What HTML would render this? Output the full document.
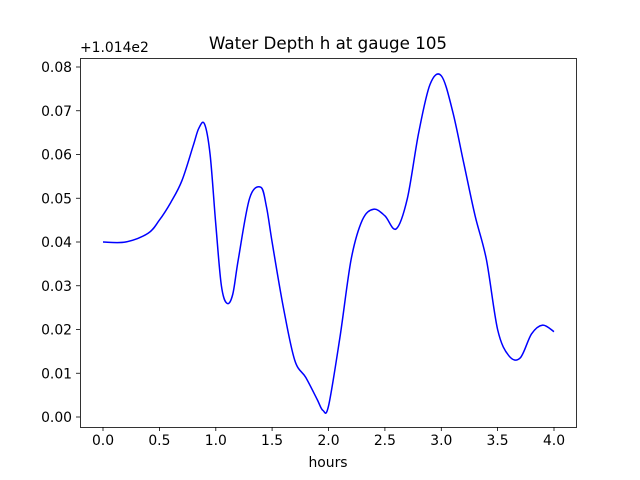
<!DOCTYPE html>
<html><head><meta charset="utf-8"><style>body{margin:0;background:#fff}svg{display:block}text{font-family:"DejaVu Sans","Liberation Sans",sans-serif;font-size:13.9px;fill:#000}</style></head><body>
<svg width="640" height="480" xmlns="http://www.w3.org/2000/svg">
<rect width="640" height="480" fill="#fff"/>
<text x="328" y="49" text-anchor="middle" style="font-size:16.7px">Water Depth h at gauge 105</text>
<text x="80" y="52">+1.014e2</text>
<path id="curve" fill="none" stroke="#0000ff" stroke-width="1.5" stroke-linejoin="round" d=""/>
<rect x="80.5" y="58.5" width="496" height="369" fill="none" stroke="#000" stroke-width="0.8"/>
<g stroke="#000" stroke-width="0.8">
<line x1="103" y1="427" x2="103" y2="431"/><line x1="159.4" y1="427" x2="159.4" y2="431"/><line x1="215.8" y1="427" x2="215.8" y2="431"/><line x1="272.1" y1="427" x2="272.1" y2="431"/><line x1="328.5" y1="427" x2="328.5" y2="431"/><line x1="384.9" y1="427" x2="384.9" y2="431"/><line x1="441.3" y1="427" x2="441.3" y2="431"/><line x1="497.6" y1="427" x2="497.6" y2="431"/><line x1="554" y1="427" x2="554" y2="431"/>
<line x1="76" y1="417" x2="80" y2="417"/><line x1="76" y1="373.25" x2="80" y2="373.25"/><line x1="76" y1="329.5" x2="80" y2="329.5"/><line x1="76" y1="285.75" x2="80" y2="285.75"/><line x1="76" y1="242" x2="80" y2="242"/><line x1="76" y1="198.25" x2="80" y2="198.25"/><line x1="76" y1="154.5" x2="80" y2="154.5"/><line x1="76" y1="110.75" x2="80" y2="110.75"/><line x1="76" y1="67" x2="80" y2="67"/>
</g>
<g text-anchor="middle">
<text x="103" y="445">0.0</text><text x="159.4" y="445">0.5</text><text x="215.8" y="445">1.0</text><text x="272.1" y="445">1.5</text><text x="328.5" y="445">2.0</text><text x="384.9" y="445">2.5</text><text x="441.3" y="445">3.0</text><text x="497.6" y="445">3.5</text><text x="554" y="445">4.0</text>
<text x="328" y="467">hours</text>
</g>
<g text-anchor="end">
<text x="72" y="422">0.00</text><text x="72" y="378.25">0.01</text><text x="72" y="334.5">0.02</text><text x="72" y="290.75">0.03</text><text x="72" y="247">0.04</text><text x="72" y="203.25">0.05</text><text x="72" y="159.5">0.06</text><text x="72" y="115.75">0.07</text><text x="72" y="72">0.08</text>
</g>
</svg>
<script>
var p=[[103,242],[125.6,242],[148.1,233.3],[159.4,220.1],[170.7,202.6],[181.9,180.7],[193.2,145.7],[198.8,128.3],[204.5,123.9],[210.1,154.5],[215.8,224.5],[221.4,285.8],[227,303.3],[232.7,294.5],[238.3,259.5],[249.6,198.3],[260.9,187.3],[266.5,207],[272.1,242],[283.4,307.6],[294.7,360.1],[305.9,377.6],[317.2,399.5],[322.9,410.4],[328.5,406.1],[339.8,338.3],[351.1,259.5],[362.3,220.1],[373.6,209.2],[384.9,215.8],[396.2,228.9],[407.4,198.3],[418.7,132.6],[430,84.5],[441.3,75.8],[452.5,110.8],[463.8,163.3],[475.1,215.8],[486.4,259.5],[497.6,329.5],[508.9,355.8],[520.2,357.9],[531.5,333.9],[542.7,325.1],[554,331.7]];
var d="M"+p[0][0]+","+p[0][1];
for(var i=0;i<p.length-1;i++){var a=p[i>0?i-1:0],b=p[i],c=p[i+1],e=p[i+2<p.length?i+2:i+1];
d+="C"+(b[0]+(c[0]-a[0])/6).toFixed(1)+","+(b[1]+(c[1]-a[1])/6).toFixed(1)+" "+(c[0]-(e[0]-b[0])/6).toFixed(1)+","+(c[1]-(e[1]-b[1])/6).toFixed(1)+" "+c[0]+","+c[1];}
document.getElementById("curve").setAttribute("d",d);
</script>
</body></html>
